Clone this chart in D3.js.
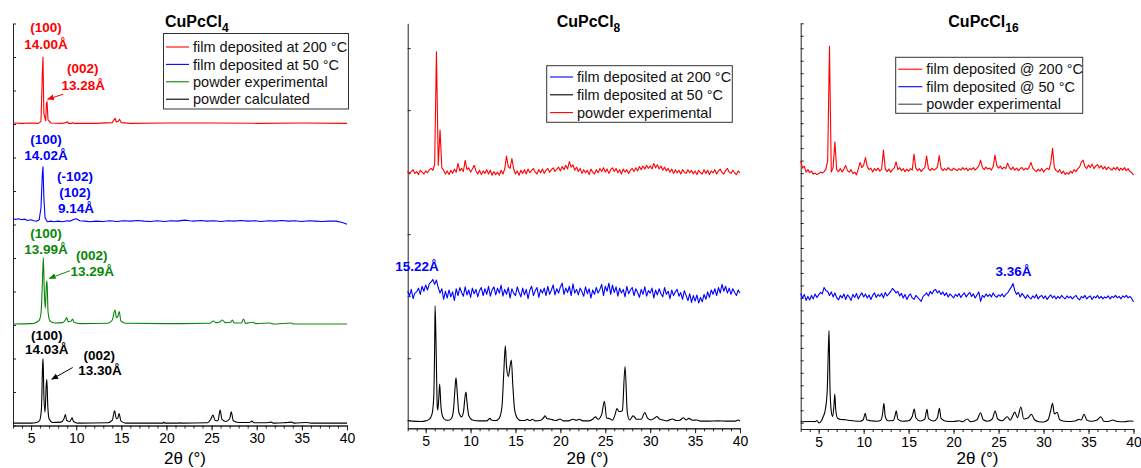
<!DOCTYPE html>
<html>
<head>
<meta charset="utf-8">
<script src="https://cdn.jsdelivr.net/npm/d3@7"></script>
<style>
body { margin: 0; background: #fff; }
svg { font-family: "Liberation Sans", Arial, sans-serif; }
</style>
</head>
<body>
<svg id="chart" width="1141" height="468"></svg>
<script>
// ---------- data (2theta in degrees, intensity in a.u.) ----------

// noisy scans are sampled every 0.2 deg from 3 to 40
let scan_start = 3, scan_step = 0.2;

// CuPcCl4
let cl4_film200 = [[3.0,3],[4.0,2],[5.0,3],[5.8,2],[6.1,8],[6.25,150],[6.32,200],[6.42,30],[6.62,10],[6.7,60],[6.77,67],[6.88,12],[7.2,3],[8.5,2],[8.85,4],[9.0,7],[9.15,2],[9.5,2],[9.6,4],[9.7,2],[12,2],[14.0,4],[14.3,17],[14.45,6],[14.65,8],[14.8,14],[15.0,4],[16,2],[20,3],[25,3],[30,2],[35,3],[40,2]];
let cl4_film50 = [[3.0,18],[3.3,15],[3.6,17],[4.0,14],[4.3,16],[4.6,12],[5.0,14],[5.3,11],[5.6,10],[5.9,14],[6.1,50],[6.25,150],[6.32,172],[6.42,80],[6.55,20],[6.8,8],[7.2,10],[7.5,8],[8.0,10],[8.5,8],[9.0,11],[9.3,10],[9.7,15],[10.0,17],[10.4,11],[11.0,10],[11.5,8],[12.2,10],[13,9],[13.7,11],[14.5,9],[15.2,11],[16,10],[16.8,12],[17.5,10],[18.2,9],[19,11],[19.8,9],[20.5,11],[21.2,10],[22,13],[22.6,11],[23,10],[23.8,12],[24.5,10],[25.3,11],[26,9],[26.8,11],[27.5,10],[28.2,12],[29,10],[29.8,11],[30.5,9],[31.3,11],[32,10],[32.8,12],[33.5,10],[34.2,11],[35,9],[35.8,11],[36.5,10],[37.2,9],[38,10],[38.8,10],[39.5,6],[40,1]];
let cl4_powder_exp = [[3.0,3],[5.0,4],[5.5,7],[5.9,14],[6.1,35],[6.25,120],[6.36,201],[6.47,100],[6.58,50],[6.7,120],[6.77,132],[6.88,40],[7.1,12],[7.6,6],[8.5,7],[8.8,15],[8.95,22],[9.1,10],[9.45,12],[9.6,18],[9.75,8],[10.5,4],[13.5,5],[14.0,15],[14.3,45],[14.45,22],[14.6,25],[14.77,40],[14.95,12],[15.5,5],[20,4],[24.8,5],[25.2,12],[25.5,7],[25.9,9],[26.2,15],[26.5,7],[27.1,8],[27.3,15],[27.5,6],[28.3,6],[28.55,18],[28.75,5],[29.6,8],[29.9,4],[31.5,6],[31.8,3],[33.8,6],[34.1,3],[40,3]];
let cl4_powder_calc = [[3.0,7],[5.0,7],[5.6,9],[5.95,15],[6.15,50],[6.28,180],[6.33,200],[6.42,90],[6.55,40],[6.68,120],[6.75,138],[6.85,60],[7.0,20],[7.4,9],[8.3,10],[8.65,20],[8.8,33],[8.95,15],[9.3,12],[9.55,23],[9.7,12],[10.2,7],[13.5,8],[14.0,16],[14.25,44],[14.45,20],[14.6,22],[14.75,36],[14.95,14],[15.5,7],[19.6,7],[19.7,10],[19.8,7],[21.4,7],[21.5,9],[21.6,7],[24.5,8],[24.9,18],[25.15,31],[25.4,15],[25.7,14],[25.95,46],[26.15,18],[26.6,12],[27.0,20],[27.18,41],[27.4,14],[28.0,9],[28.5,9],[29.2,9],[29.45,13],[29.7,8],[31.0,8],[31.6,10],[31.9,7],[33.0,8],[33.4,9],[33.85,10],[34.2,7],[35.5,9],[36,7],[40,7]];
let cl4_offsets = [900, 600, 300, 0];

// CuPcCl8
let cl8_powder_exp = [
  20,-30,10,40,-20,10,-40,30,0,-30,
  20,-10,40,60,30,120,1940,110,680,70,
  30,-30,20,-40,30,-20,50,0,140,20,
  60,10,190,40,70,0,50,110,20,-30,
  30,-40,20,-20,40,-30,30,-50,10,-40,
  0,-50,30,-30,50,260,90,60,220,50,
  -30,20,-50,30,-20,40,-30,50,-10,30,
  60,0,-30,40,-10,50,-20,30,60,0,
  40,70,10,50,80,20,90,40,110,50,
  170,80,120,30,80,10,60,-20,40,-10,
  30,-40,50,0,-30,40,-10,60,10,70,
  0,50,-20,40,70,10,60,-10,40,-30,
  50,0,40,-20,30,60,10,70,20,90,
  40,100,50,110,60,100,50,140,70,120,
  50,100,30,80,20,60,0,50,-20,40,
  -10,30,-30,40,0,-20,40,-10,30,-30,
  20,-40,30,-10,-30,40,-20,30,-40,20,
  -10,40,-30,20,50,-10,-30,30,60,0,
  -20,30,-10,-40,20,-10];
let cl8_film200 = [
  80,10,110,-40,50,70,130,30,160,80,
  180,100,200,230,270,190,260,140,50,120,
  -50,80,-30,100,-10,70,-70,120,10,140,
  60,0,150,20,100,-20,130,40,110,-10,
  90,140,10,120,30,160,0,100,150,20,
  130,50,180,0,110,30,140,-30,120,50,
  10,150,60,-10,130,20,110,-40,100,160,
  10,90,140,-20,110,50,130,10,160,30,
  100,180,20,120,50,150,210,30,130,60,
  160,10,200,50,110,20,130,70,0,150,
  40,120,-30,100,30,140,50,110,190,10,
  160,80,210,30,180,60,150,0,130,50,
  110,-10,160,40,100,140,10,120,60,-20,
  110,30,150,0,90,50,130,-30,100,20,
  120,40,-10,140,30,80,-40,100,10,70,
  110,0,60,-50,90,10,-70,40,-100,10,
  -80,20,-110,-20,-90,30,-50,70,-20,100,
  30,120,10,140,50,190,80,160,50,130,
  30,120,60,10,100,50];
let cl8_film50 = [[3.0,20],[3.5,10],[4.5,5],[5.0,15],[5.4,40],[5.7,120],[5.9,400],[6.0,1200],[6.05,1870],[6.15,1300],[6.3,220],[6.35,190],[6.45,350],[6.56,610],[6.7,250],[6.9,80],[7.2,30],[7.6,25],[7.9,60],[8.1,200],[8.3,600],[8.38,710],[8.5,500],[8.7,150],[9.0,80],[9.2,150],[9.4,420],[9.49,480],[9.6,320],[9.8,100],[10.2,30],[11,15],[11.8,15],[12.05,45],[12.17,55],[12.3,30],[12.8,20],[13.2,60],[13.5,250],[13.7,800],[13.87,1226],[14.0,900],[14.2,730],[14.4,900],[14.54,995],[14.7,600],[14.9,200],[15.2,60],[15.6,20],[16.0,20],[16.3,40],[16.6,20],[16.9,40],[17.2,15],[17.8,25],[18.1,60],[18.3,95],[18.5,55],[18.8,45],[19.1,35],[19.5,20],[19.96,45],[20.3,15],[20.9,15],[21.4,40],[21.8,25],[22.1,40],[22.5,15],[23.2,15],[23.6,40],[23.9,80],[24.2,40],[24.6,120],[24.9,330],[25.15,60],[25.5,50],[25.8,25],[26.1,120],[26.3,215],[26.5,170],[26.7,165],[26.9,180],[27.2,890],[27.45,150],[27.7,30],[28.1,95],[28.5,40],[29.0,40],[29.4,150],[29.7,60],[30.1,30],[30.5,60],[30.75,85],[31.0,50],[31.5,25],[31.9,15],[32.2,35],[32.5,45],[32.9,20],[33.3,25],[33.7,65],[34.0,30],[34.3,55],[34.7,25],[35.2,30],[35.6,10],[36.5,10],[37.5,15],[38.5,10],[39.5,10],[39.8,30],[40,10]];
let cl8_offsets = [4000, 2000, -25];

// CuPcCl16
let cl16_film200 = [
  380,100,180,-60,40,-80,-20,-140,-100,-160,
  -120,-60,-100,-40,60,400,4980,-60,120,1150,
  40,-40,80,-60,60,200,0,-60,40,-120,
  -60,-170,60,330,120,220,520,160,40,100,
  -60,80,0,100,-20,60,820,80,-40,60,
  -60,40,100,350,40,120,0,80,-40,60,
  -20,80,20,660,100,0,80,-40,60,120,
  580,80,0,100,20,60,140,600,100,0,
  80,20,120,40,0,100,40,0,80,20,
  120,40,100,0,80,40,120,20,100,180,
  420,120,40,140,60,100,20,160,620,200,
  100,180,60,140,80,300,120,40,140,20,
  100,0,80,120,20,100,40,140,330,100,
  20,-40,60,-20,80,-60,40,100,40,300,
  890,120,0,-60,40,-120,-20,-160,-80,-140,
  -20,-100,40,-40,80,140,340,420,160,80,
  220,120,260,80,180,240,100,200,60,160,
  40,140,80,20,120,40,140,0,100,20,
  120,0,80,-40,-80,-180];
let cl16_film50 = [
  180,0,140,-100,60,-80,100,-40,160,20,
  120,220,160,420,300,260,100,240,40,200,
  20,-80,100,0,160,-60,120,40,-100,140,
  20,180,-40,100,200,40,160,0,120,-60,
  100,200,20,140,60,180,0,220,80,160,
  260,380,300,200,260,80,180,0,140,-60,
  80,160,0,-60,100,20,-60,-140,60,120,
  200,80,260,160,300,340,200,280,140,240,
  100,200,40,160,80,0,140,60,180,20,
  120,200,40,140,220,60,160,0,120,240,
  -140,100,20,160,60,140,40,200,80,20,
  120,60,160,40,140,200,320,420,580,300,
  140,220,40,180,80,-20,120,20,-40,80,
  0,140,-40,60,100,-20,80,-60,40,120,
  0,80,-40,60,-20,100,20,-40,80,0,
  60,-40,40,100,-20,-80,60,0,100,-40,
  40,80,-60,60,0,100,-20,60,-40,40,
  0,80,-40,60,20,100,0,60,-40,80,
  20,100,0,60,-20,-160];
let cl16_powder_exp = [[3.0,40],[4.0,50],[4.6,45],[4.8,90],[5.05,-10],[5.3,80],[5.5,240],[5.75,550],[5.95,1300],[6.08,3000],[6.15,3690],[6.25,1500],[6.4,450],[6.55,250],[6.7,700],[6.79,1150],[6.9,500],[7.1,180],[7.5,130],[8.0,120],[8.5,90],[9.0,70],[9.6,60],[9.95,120],[10.17,380],[10.35,110],[10.8,80],[11.5,60],[11.9,100],[12.1,350],[12.25,780],[12.4,250],[12.7,80],[13.3,90],[13.5,300],[13.62,480],[13.8,150],[14.3,60],[15.0,80],[15.4,250],[15.63,550],[15.8,200],[16.3,70],[16.8,150],[17.04,540],[17.2,180],[17.8,70],[18.2,200],[18.42,580],[18.6,180],[19.2,60],[20.0,50],[20.6,80],[21.0,40],[21.5,150],[21.9,40],[22.6,120],[22.99,400],[23.3,120],[23.8,60],[24.3,150],[24.62,470],[24.9,150],[25.4,80],[25.96,240],[26.3,100],[26.6,300],[26.8,430],[27.1,200],[27.48,630],[27.8,150],[28.3,200],[28.64,340],[29.0,120],[29.5,40],[30.0,30],[30.5,120],[30.8,500],[31.0,780],[31.2,350],[31.5,420],[31.8,120],[32.3,60],[33.0,50],[33.6,80],[33.9,140],[34.2,110],[34.5,340],[34.8,110],[35.3,60],[35.9,100],[36.37,240],[36.7,60],[37.2,50],[37.7,110],[38.2,50],[39,40],[39.6,70],[40,60]];
let cl16_offsets = [10100, 5000, 0];

// peak annotations: [2theta, intensity, text]
let cl4_labels_red = [[6.65,1190,"(100)"],[6.65,1138,"14.00Å"],[10.72,1068,"(002)"],[10.79,1016,"13.28Å"]];
let cl4_labels_blue = [[6.65,854,"(100)"],[6.65,807,"14.02Å"],[9.87,745,"(-102)"],[9.87,698,"(102)"],[9.98,648,"9.14Å"]];
let cl4_labels_green = [[6.65,574,"(100)"],[6.65,526,"13.99Å"],[11.72,509,"(002)"],[11.78,461,"13.29Å"]];
let cl4_labels_black = [[6.73,270,"(100)"],[6.73,227,"14.03Å"],[12.56,210,"(002)"],[12.63,166,"13.30Å"]];
let cl8_labels_blue = [[4.04,2490,"15.22Å"]];
let cl16_labels_blue = [[26.67,6078,"3.36Å"]];
// arrows: [from 2theta, from I, to 2theta, to I]
let cl4_arrows = [[8.57,989,6.84,974],[9.31,462,7.02,439],[9.61,173,7.29,138]];

let x_ticks_major = [5, 10, 15, 20, 25, 30, 35, 40];

// ---------- drawing ----------
let RED = "#ff0000", BLUE = "#0000ff", GREEN = "#0a870a", BLACK = "#000000";

function gridScan(values) {
    return values.map(function(v, i) { return [scan_start + i * scan_step, v]; });
}

let svg = d3.select("#chart");

svg.append("defs").selectAll("marker")
    .data([["red", RED], ["green", GREEN], ["black", BLACK]])
    .enter().append("marker")
    .attr("id", function(d) { return "arrow-" + d[0]; })
    .attr("viewBox", "0 0 10 10")
    .attr("refX", 9).attr("refY", 5)
    .attr("markerWidth", 7).attr("markerHeight", 7)
    .attr("markerUnits", "userSpaceOnUse")
    .attr("orient", "auto")
    .append("path")
    .attr("d", "M0,1 L10,5 L0,9 z")
    .attr("fill", function(d) { return d[1]; });

let panels = [
    {
        left: 13, right: 347, bottom: 425.5, top: 23.5,
        yDomain: [0, 1200], yTicks: d3.range(0, 1201, 100),
        traces: [
            {data: cl4_film200, color: RED, offset: cl4_offsets[0], curve: d3.curveLinear},
            {data: cl4_film50, color: BLUE, offset: cl4_offsets[1], curve: d3.curveLinear},
            {data: cl4_powder_exp, color: GREEN, offset: cl4_offsets[2], curve: d3.curveMonotoneX},
            {data: cl4_powder_calc, color: BLACK, offset: cl4_offsets[3], curve: d3.curveMonotoneX}
        ],
        labels: [[cl4_labels_red, RED], [cl4_labels_blue, BLUE], [cl4_labels_green, GREEN], [cl4_labels_black, BLACK]],
        arrows: [[cl4_arrows[0], "red"], [cl4_arrows[1], "green"], [cl4_arrows[2], "black"]],
        title: ["CuPcCl", "4"], titleX: 165, xLabelX: 185,
        legend: {x0: 163.5, x1: 348.5, y0: 33.5, y1: 109, rowY: 47, rowH: 17.4, lineX: 166, lineW: 23},
        legendItems: [["film deposited at 200 °C", RED], ["film deposited at 50 °C", BLUE], ["powder experimental", GREEN], ["powder calculated", BLACK]]
    },
    {
        left: 407.7, right: 740, bottom: 428.3, top: 23.3,
        yDomain: [-130, 6400], yTicks: d3.range(0, 6001, 1000),
        traces: [
            {data: gridScan(cl8_powder_exp), color: RED, offset: cl8_offsets[0], curve: d3.curveLinear},
            {data: gridScan(cl8_film200), color: BLUE, offset: cl8_offsets[1], curve: d3.curveLinear},
            {data: cl8_film50, color: BLACK, offset: cl8_offsets[2], curve: d3.curveMonotoneX}
        ],
        labels: [[cl8_labels_blue, BLUE]],
        arrows: [],
        title: ["CuPcCl", "8"], titleX: 556.7, xLabelX: 587.5,
        legend: {x0: 546.7, x1: 732.3, y0: 65.7, y1: 122.3, rowY: 77, rowH: 17.8, lineX: 550, lineW: 23},
        legendItems: [["film deposited at 200 °C", BLUE], ["film deposited at 50 °C", BLACK], ["powder experimental", RED]]
    },
    {
        left: 800.7, right: 1133.5, bottom: 429, top: 23.3,
        yDomain: [-250, 16000], yTicks: d3.range(0, 16001, 500),
        traces: [
            {data: gridScan(cl16_film200), color: RED, offset: cl16_offsets[0], curve: d3.curveLinear},
            {data: gridScan(cl16_film50), color: BLUE, offset: cl16_offsets[1], curve: d3.curveLinear},
            {data: cl16_powder_exp, color: BLACK, offset: cl16_offsets[2], curve: d3.curveMonotoneX}
        ],
        labels: [[cl16_labels_blue, BLUE]],
        arrows: [],
        title: ["CuPcCl", "16"], titleX: 948.3, xLabelX: 977.5,
        legend: {x0: 895.7, x1: 1082.7, y0: 57.3, y1: 113.3, rowY: 69.2, rowH: 17.5, lineX: 898.3, lineW: 24},
        legendItems: [["film deposited @ 200 °C", RED], ["film deposited @ 50 °C", BLUE], ["powder experimental", "#444"]]
    }
];

panels.forEach(function(p) {
    let x = d3.scaleLinear().domain([3, 40]).range([p.left, p.right]);
    let y = d3.scaleLinear().domain(p.yDomain).range([p.bottom, p.top]);
    let g = svg.append("g");

    // x axis: minor ticks every degree, labelled ticks every 5
    g.append("g")
        .attr("class", "axis")
        .attr("transform", "translate(0," + p.bottom + ")")
        .call(d3.axisBottom(x).tickValues(d3.range(3, 41, 1)).tickSize(3).tickSizeOuter(0).tickFormat(""));
    g.append("g")
        .attr("class", "axis")
        .attr("transform", "translate(0," + p.bottom + ")")
        .call(d3.axisBottom(x).tickValues(x_ticks_major).tickSize(5).tickSizeOuter(0).tickPadding(3).tickFormat(d3.format("d")));

    // y axis without labels, ticks pointing inward
    g.append("g")
        .attr("class", "axis")
        .attr("transform", "translate(" + p.left + ",0)")
        .call(d3.axisLeft(y).tickValues(p.yTicks).tickSize(-3).tickSizeOuter(0).tickFormat(""));

    g.selectAll(".axis path, .axis line").attr("stroke", "#222").attr("stroke-width", 1);
    g.selectAll(".axis text")
        .style("font-size", "14px")
        .style("font-family", "Liberation Sans, Arial, sans-serif")
        .attr("fill", "#000");

    // traces
    p.traces.forEach(function(t) {
        let line = d3.line()
            .curve(t.curve)
            .x(function(d) { return x(d[0]); })
            .y(function(d) { return y(d[1] + t.offset); });
        g.append("path")
            .datum(t.data)
            .attr("d", line)
            .attr("fill", "none")
            .attr("stroke", t.color)
            .attr("stroke-width", 1.1)
            .attr("stroke-linejoin", "round");
    });

    // peak annotations
    p.labels.forEach(function(set) {
        g.selectAll(null)
            .data(set[0])
            .enter().append("text")
            .attr("x", function(d) { return x(d[0]); })
            .attr("y", function(d) { return y(d[1]); })
            .attr("dy", "0.36em")
            .attr("text-anchor", "middle")
            .style("font-size", "13.5px")
            .style("font-weight", "bold")
            .attr("fill", set[1])
            .text(function(d) { return d[2]; });
    });

    p.arrows.forEach(function(a) {
        let d = a[0];
        g.append("line")
            .attr("x1", x(d[0])).attr("y1", y(d[1]))
            .attr("x2", x(d[2])).attr("y2", y(d[3]))
            .attr("stroke", a[1] == "red" ? RED : (a[1] == "green" ? GREEN : BLACK))
            .attr("stroke-width", 1)
            .attr("marker-end", "url(#arrow-" + a[1] + ")");
    });

    // title with subscript
    let title = g.append("text")
        .attr("x", p.titleX)
        .attr("y", 27)
        .style("font-size", "16px")
        .style("font-weight", "bold");
    title.append("tspan").text(p.title[0]);
    title.append("tspan").attr("dy", 5).style("font-size", "12px").text(p.title[1]);

    // x axis title
    g.append("text")
        .attr("x", p.xLabelX)
        .attr("y", 464)
        .attr("text-anchor", "middle")
        .style("font-size", "17px")
        .text("2θ (°)");

    // legend
    let L = p.legend;
    g.append("rect")
        .attr("x", L.x0).attr("y", L.y0)
        .attr("width", L.x1 - L.x0).attr("height", L.y1 - L.y0)
        .attr("fill", "#fff")
        .attr("stroke", "#333")
        .attr("stroke-width", 1);
    let items = g.selectAll(".legend-item")
        .data(p.legendItems)
        .enter().append("g")
        .attr("class", "legend-item")
        .attr("transform", function(d, i) { return "translate(0," + (L.rowY + i * L.rowH) + ")"; });
    items.append("line")
        .attr("x1", L.lineX).attr("x2", L.lineX + L.lineW)
        .attr("stroke", function(d) { return d[1]; })
        .attr("stroke-width", 1.1);
    items.append("text")
        .attr("x", L.lineX + L.lineW + 4)
        .attr("dy", "0.36em")
        .style("font-size", "14.5px")
        .attr("fill", "#111")
        .text(function(d) { return d[0]; });
});
</script>
</body>
</html>
